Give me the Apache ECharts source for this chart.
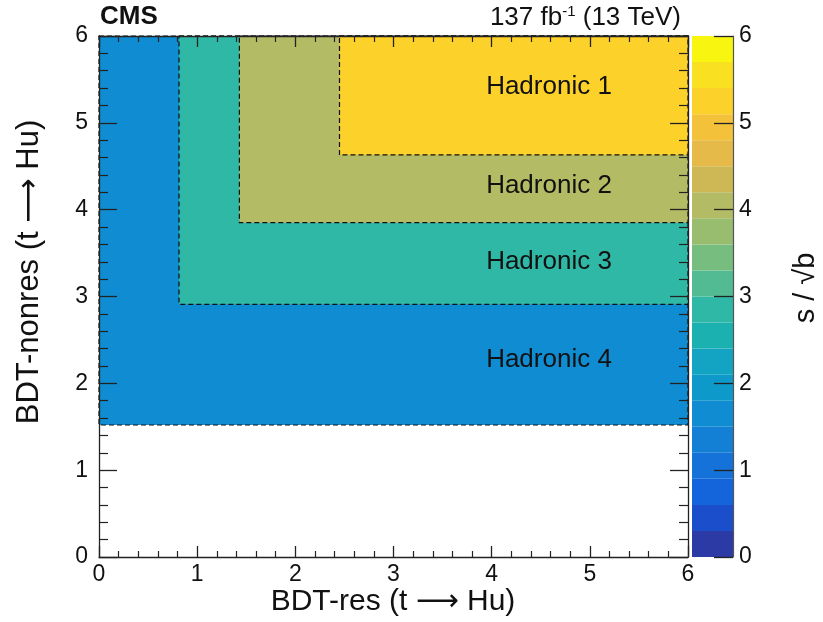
<!DOCTYPE html>
<html><head><meta charset="utf-8">
<script src="https://cdn.jsdelivr.net/npm/echarts@6/dist/echarts.min.js"></script>
<style>html,body{margin:0;padding:0;background:#fff}#c{width:823px;height:622px}</style>
</head><body><div id="c"></div>
<script>
// Regions: [name, xLow, yLow, s/sqrt(b)]
const regionNames = ['Hadronic 4', 'Hadronic 3', 'Hadronic 2', 'Hadronic 1'];
const regionXLow = [0.0, 0.815, 1.43, 2.45];
const regionYLow = [1.52, 2.91, 3.85, 4.63];
const regionValue = [1.65, 2.85, 4.05, 5.25];
const axisMax = 6;
// colour scale (s/sqrt(b)), 20 bands of 0.3
const zEdges = [0,0.3,0.6,0.9,1.2,1.5,1.8,2.1,2.4,2.7,3.0,3.3,3.6,3.9,4.2,4.5,4.8,5.1,5.4,5.7,6.0];
const palette = ['#2b3aa4','#1a4ecb','#1464dc','#1472d8','#137fd5','#108dd2','#0e99cb','#12a4c2','#1bb1b1','#30b8a6',
                 '#52bb93','#76bd7f','#98bd6f','#b3bb64','#cdb855','#e5ba48','#f4c23a','#fcd12a','#f9e020','#f8f510'];
const tickLabels = ['0','1','2','3','4','5','6'];

const FONT = '"Liberation Sans", Arial, Helvetica, "DejaVu Sans", sans-serif';
const regionData = regionNames.map((n,i)=>[regionXLow[i], axisMax, regionYLow[i], axisMax, regionValue[i]]);
const barData = palette.map((c,i)=>[0, 1, zEdges[i], zEdges[i+1], (zEdges[i]+zEdges[i+1])/2]);
const pieces = palette.map((c,i)=>({gte: zEdges[i], lt: zEdges[i+1], color: c}));
pieces[pieces.length-1].lte = zEdges[zEdges.length-1]; delete pieces[pieces.length-1].lt;

function rectItem(dashed){
  return function(params, api){
    const p0 = api.coord([api.value(0), api.value(3)]);
    const p1 = api.coord([api.value(1), api.value(2)]);
    return {type:'rect', shape:{x:p0[0], y:p0[1], width:p1[0]-p0[0], height:p1[1]-p0[1]},
      style: dashed ? {fill: api.visual('color'), stroke:'#111', lineWidth:1.2, lineDash:[5,3]} : {fill: api.visual('color')}};
  };
}
const lblStyle = {color:'#111', fontFamily:FONT, fontSize:23};
function mainX(pos, show){
  return {gridIndex:0, type:'value', min:0, max:axisMax, interval:1, position:pos, z:10,
    axisLine:{show:true, onZero:false, lineStyle:{color:'#222', width:1.3}},
    axisTick:{show:true, inside:true, length:11, lineStyle:{color:'#222', width:1.3}},
    minorTick:{show:true, splitNumber:5, length:6, lineStyle:{color:'#222', width:1.2}},
    splitLine:{show:false}, minorSplitLine:{show:false},
    axisLabel:{show:show, margin:6, formatter:v=>tickLabels[Math.round(v)], ...lblStyle}};
}
function mainY(pos, show){
  return {gridIndex:0, type:'value', min:0, max:axisMax, interval:1, position:pos, z:10,
    axisLine:{show:true, onZero:false, lineStyle:{color:'#222', width:1.3}},
    axisTick:{show:true, inside:true, length:18, lineStyle:{color:'#222', width:1.3}},
    minorTick:{show:true, splitNumber:5, length:9, lineStyle:{color:'#222', width:1.2}},
    splitLine:{show:false}, minorSplitLine:{show:false},
    axisLabel:{show:show, margin:11, formatter:v=>tickLabels[Math.round(v)], ...lblStyle}};
}
const labelYs = [360, 262, 186, 87];
const chart = echarts.init(document.getElementById('c'), null, {renderer:'canvas'});
chart.setOption({
  backgroundColor:'#fff',
  animation:false,
  grid:[{left:99, top:36, width:589, height:521},
        {left:692, top:36, width:41, height:521, show:false}],
  xAxis:[mainX('bottom', true), mainX('top', false),
    {gridIndex:1, type:'value', min:0, max:1, show:false}],
  yAxis:[mainY('left', true), mainY('right', false),
    {gridIndex:1, type:'value', min:0, max:axisMax, interval:1, position:'right', z:10,
     axisLine:{show:true, onZero:false, lineStyle:{color:'#555', width:1.2}},
     axisTick:{show:true, inside:true, length:19, lineStyle:{color:'#222', width:1.3}},
     splitLine:{show:false},
     axisLabel:{show:true, margin:6, formatter:v=>tickLabels[Math.round(v)], ...lblStyle}}],
  visualMap:{show:false, type:'piecewise', dimension:4, pieces:pieces, seriesIndex:[0,1]},
  series:[
    {type:'custom', xAxisIndex:0, yAxisIndex:0, renderItem:rectItem(true), data:regionData,
     encode:{x:[0,1], y:[2,3]}, z:2},
    {type:'custom', xAxisIndex:2, yAxisIndex:2, renderItem:rectItem(false), data:barData,
     encode:{x:[0,1], y:[2,3]}, z:2}
  ],
  graphic:[
    ...regionNames.map((n,i)=>({type:'text', x:549, y:labelYs[i], z:20,
      style:{text:n, fill:'#111', font:'26px '+FONT, textAlign:'center', textVerticalAlign:'middle'}})),
    {type:'text', x:100, y:17, style:{text:'CMS', fill:'#111', font:'bold 26px '+FONT, textAlign:'left', textVerticalAlign:'middle'}},
    {type:'text', x:681, y:18, style:{text:'{a|137 fb}{s|-1}{a| (13 TeV)}', textAlign:'right', textVerticalAlign:'middle',
      rich:{a:{fontFamily:FONT, fontSize:26, fill:'#111'}, s:{fontFamily:FONT, fontSize:15, fill:'#111', verticalAlign:'top', padding:[0,0,12,0]}}}},
    {type:'text', x:393, y:602, style:{text:'BDT-res (t \u27F6 Hu)', fill:'#111', font:'30px '+FONT, textAlign:'center', textVerticalAlign:'middle'}},
    {type:'text', x:29, y:272, rotation:Math.PI/2, style:{text:'BDT-nonres (t \u27F6 Hu)', fill:'#111', font:'31px '+FONT, textAlign:'center', textVerticalAlign:'middle'}},
    {type:'text', x:806, y:288, rotation:Math.PI/2, style:{text:'s / \u221Ab', fill:'#111', font:'29px '+FONT, textAlign:'center', textVerticalAlign:'middle'}}
  ]
});
</script></body></html>
